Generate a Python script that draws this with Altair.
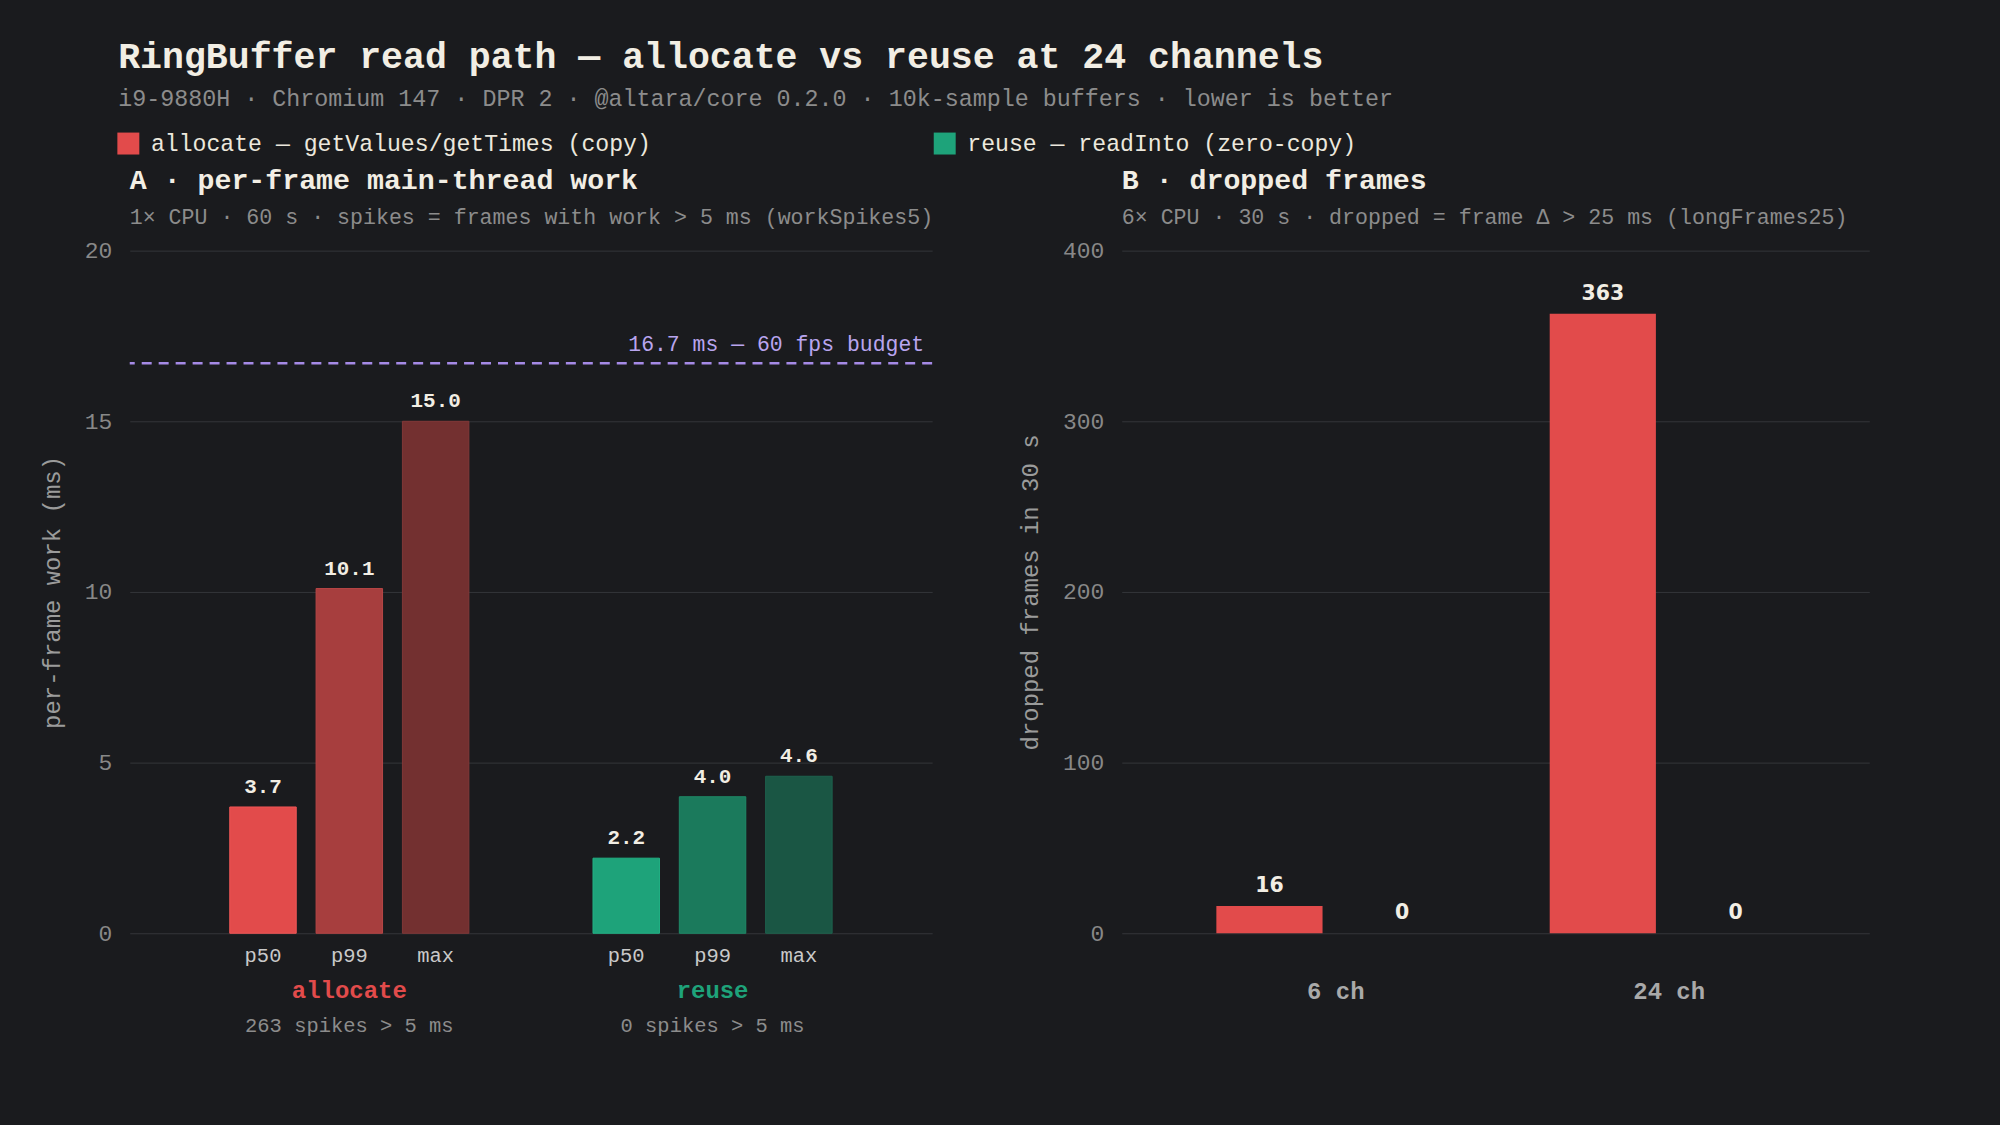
import altair as alt
import pandas as pd

MONO = "Courier New, Courier, Nimbus Mono PS, FreeMono, Liberation Mono, monospace"
SANS = "DejaVu Sans, Verdana, sans-serif"

# ---------------- data ----------------
# Panel A: per-frame main-thread work (ms)
a_group = ["allocate", "allocate", "allocate", "reuse", "reuse", "reuse"]
a_metric = ["p50", "p99", "max", "p50", "p99", "max"]
a_value = [3.7, 10.1, 15.0, 2.2, 4.0, 4.6]
a_groups = ["allocate", "reuse"]
a_metrics = ["p50", "p99", "max"]
a_spikes = [263, 0]
a_ticks = [0, 5, 10, 15, 20]
budget_ms = [16.7]

# Panel B: dropped frames in 30 s
b_channel = ["6 ch", "6 ch", "24 ch", "24 ch"]
b_series = ["allocate", "reuse", "allocate", "reuse"]
b_dropped = [16, 0, 363, 0]
b_channels = ["6 ch", "24 ch"]
b_ticks = [0, 100, 200, 300, 400]

series = ["allocate", "reuse"]
series_legend = ["allocate — getValues/getTimes (copy)", "reuse — readInto (zero-copy)"]

# ---------------- styles ----------------
BG = "#1a1b1e"
GRID = "#34363a"
WHITE = "#f2eee4"
GRAY = "#8c8c8c"
series_colors = ["#e24b4b", "#1ea37a"]
a_keys = [g + "-" + m for g, m in zip(a_group, a_metric)]
a_fill = ["#e24b4b", "#a73e3e", "#733030", "#1ea37a", "#1b7a5c", "#1a5644"]
a_stroke = ["#f05656", "#b84646", "#823838", "#22b386", "#1f8a67", "#1e624d"]

dfA = pd.DataFrame({"group": a_group, "metric": a_metric, "value": a_value, "key": a_keys})
dfA["label"] = dfA["value"].map(lambda v: f"{v:.1f}")
dfG = pd.DataFrame({"group": a_groups, "spikes": [f"{n} spikes > 5 ms" for n in a_spikes]})
dfBud = pd.DataFrame({"budget": budget_ms, "txt": [f"{budget_ms[0]} ms — 60 fps budget"]})
dfB = pd.DataFrame({"channel": b_channel, "series": b_series, "dropped": b_dropped})

label_expr = " : ".join(
    [f"datum.value == '{s}' ? '{l}'" for s, l in zip(series[:-1], series_legend[:-1])]
    + [f"'{series_legend[-1]}'"]
)

legend = alt.Legend(
    orient="none", legendX=-13, legendY=-119, direction="horizontal", title=None,
    symbolType="square", symbolSize=484, symbolStrokeWidth=0, symbolOpacity=1,
    labelFont=MONO, labelFontSize=23.2, labelColor="#ece8dd", labelOffset=11,
    labelLimit=900, columnPadding=282, labelExpr=label_expr,
)
color_scale = alt.Scale(domain=series, range=series_colors)


def y_axis(title, ticks):
    return alt.Axis(
        values=ticks, title=title, titleFont=MONO, titleFontSize=24,
        titleFontWeight="normal", titleColor="#9b9b9b", titlePadding=20,
        labelFont=MONO, labelFontSize=23, labelColor="#888888", labelPadding=18,
        domain=False, ticks=False, grid=True, gridColor=GRID, gridWidth=1,
    )


def panel_title(text, sub):
    return alt.TitleParams(
        text=text, subtitle=sub, anchor="start", frame="group",
        font=MONO, fontSize=28.3, fontWeight="bold", color=WHITE,
        subtitleFont=MONO, subtitleFontSize=21.65, subtitleColor=GRAY,
        subtitlePadding=12, offset=10,
    )


# ---------------- panel A ----------------
WA, HA = 804, 684
xA = alt.X("group:N", scale=alt.Scale(domain=a_groups, paddingInner=0.287, paddingOuter=0.248), axis=None)
xoA = alt.XOffset("metric:N", scale=alt.Scale(domain=a_metrics, paddingInner=0.23, paddingOuter=0.115))
yA = alt.Y("value:Q", scale=alt.Scale(domain=[0, 20]), axis=y_axis("per-frame work (ms)", a_ticks))

baseA = alt.Chart(dfA).encode(x=xA, xOffset=xoA)
barsA = baseA.mark_bar(strokeWidth=1).encode(
    y=yA,
    fill=alt.Fill("key:N", scale=alt.Scale(domain=a_keys, range=a_fill), legend=None),
    stroke=alt.Stroke("key:N", scale=alt.Scale(domain=a_keys, range=a_stroke), legend=None),
)
valsA = baseA.mark_text(dy=-20, font=MONO, fontSize=21, fontWeight="bold", color=WHITE, baseline="middle").encode(
    y=alt.Y("value:Q"), text="label:N"
)
metricA = baseA.mark_text(dy=23, font=MONO, fontSize=20.5, color="#c9c9c9", baseline="middle").encode(
    y=alt.datum(0), text="metric:N"
)
groupA = alt.Chart(dfG).mark_text(dy=58, font=MONO, fontSize=24, fontWeight="bold", baseline="middle").encode(
    x=xA, y=alt.datum(0), text="group:N",
    color=alt.Color("group:N", scale=color_scale, legend=legend),
)
spikesA = alt.Chart(dfG).mark_text(dy=93, font=MONO, fontSize=20.5, color=GRAY, baseline="middle").encode(
    x=xA, y=alt.datum(0), text="spikes:N"
)
ruleA = alt.Chart(dfBud).mark_rule(color="#a58ae6", strokeDash=[10, 7], strokeWidth=2.5).encode(y="budget:Q")
ruleTxtA = alt.Chart(dfBud).mark_text(
    align="right", dx=-8, dy=-18, font=MONO, fontSize=21.5, color="#b9a5ef", baseline="middle"
).encode(x=alt.value(WA), y="budget:Q", text="txt:N")

panelA = alt.layer(barsA, valsA, metricA, groupA, spikesA, ruleA, ruleTxtA).properties(
    width=WA, height=HA,
    title=panel_title("A · per-frame main-thread work",
                      "1× CPU · 60 s · spikes = frames with work > 5 ms (workSpikes5)"),
)

# ---------------- panel B ----------------
WB, HB = 749, 684
xB = alt.X(
    "channel:N",
    scale=alt.Scale(domain=b_channels, paddingInner=0.2036, paddingOuter=0.223, align=0.547),
    axis=alt.Axis(title=None, labelFont=MONO, labelFontSize=24, labelFontWeight="bold",
                  labelColor="#a9a9a9", labelPadding=46, labelAngle=0, domain=False, ticks=False),
)
xoB = alt.XOffset("series:N", scale=alt.Scale(domain=series, paddingInner=0.2, paddingOuter=0.1))
yB = alt.Y("dropped:Q", scale=alt.Scale(domain=[0, 400]), axis=y_axis("dropped frames in 30 s", b_ticks))

baseB = alt.Chart(dfB).encode(x=xB, xOffset=xoB)
barsB = baseB.mark_bar().encode(y=yB, color=alt.Color("series:N", scale=color_scale, legend=legend))
valsB = baseB.mark_text(dy=-20, font=SANS, fontSize=20.5, fontWeight="bold", color=WHITE, baseline="middle").encode(
    y=alt.Y("dropped:Q"), text="dropped:Q"
)
panelB = alt.layer(barsB, valsB).properties(
    width=WB, height=HB,
    title=panel_title("B · dropped frames",
                      "6× CPU · 30 s · dropped = frame Δ > 25 ms (longFrames25)"),
)

chart = alt.hconcat(panelA, panelB, spacing=84).resolve_scale(
    xOffset="independent"
).properties(
    title=alt.TitleParams(
        text="RingBuffer read path — allocate vs reuse at 24 channels",
        subtitle="i9-9880H · Chromium 147 · DPR 2 · @altara/core 0.2.0 · 10k-sample buffers · lower is better",
        anchor="start", frame="bounds", dx=78, offset=22,
        font=MONO, fontSize=36.6, fontWeight="bold", color=WHITE,
        subtitleFont=MONO, subtitleFontSize=23.4, subtitleColor=GRAY, subtitlePadding=12,
    )
).configure(
    background=BG, padding={"left": 40, "top": 38, "right": 131, "bottom": 95}
).configure_view(stroke=None)

chart.save("out.html", embed_options={"renderer": "svg", "actions": False})
